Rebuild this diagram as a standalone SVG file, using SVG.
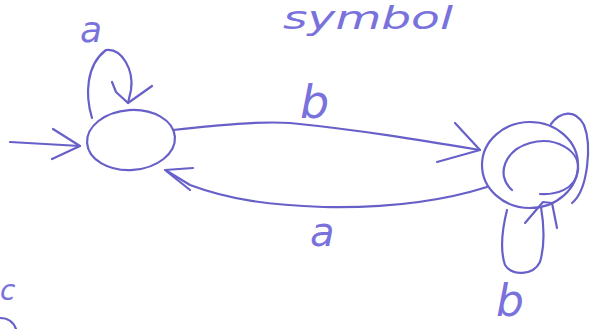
<svg xmlns="http://www.w3.org/2000/svg" width="594" height="329" viewBox="0 0 594 329">
<style>
.s{fill:none;stroke:#6760c8;stroke-width:2.2;stroke-linecap:round;stroke-linejoin:round}
.t{fill:#7a72dc;font-family:"DejaVu Sans",sans-serif;font-style:italic}
</style>
<rect width="594" height="329" fill="#ffffff"/>
<text class="t" x="283" y="29" font-size="32" textLength="170" lengthAdjust="spacingAndGlyphs">symbol</text>
<text class="t" x="0" y="300" font-size="28">c</text>
<path class="s" d="M0,318 Q12,318 16,329"/>
<g id="q0">
<ellipse class="s" cx="131" cy="140" rx="44" ry="30" transform="rotate(-4 131 140)"/>
</g>
<g id="q1">
<ellipse class="s" cx="530" cy="165" rx="48" ry="43"/>
<path class="s" d="M512,190 C495,175 505,150 530,143 C555,136 580,150 578,170 C576,190 555,195 540,194"/>
<path class="s" d="M551,124 C560,112 575,108 584,125 C592,145 588,190 572,203"/>
</g>
<g id="connectors">
<path class="s" d="M10,142 L80,146"/>
<path class="s" d="M53,129 L80,146 L52,159"/>
<path class="s" d="M92,118 C85,95 86,65 106,50 C122,48 134,70 131,90 L128,103"/>
<path class="s" d="M112,82 L116,92 L128,103 L152,86"/>
<path class="s" d="M173,130 C220,125 260,121 290,123 C360,130 420,140 480,150"/>
<path class="s" d="M455,123 L480,150 L437,162"/>
<path class="s" d="M487,187 C430,205 370,208 323,207 C270,205 230,200 190,185 L167,171"/>
<path class="s" d="M193,168 L165,170 L190,190"/>
<path class="s" d="M507,210 C502,230 500,250 505,265 C512,276 533,276 540,262 C545,245 544,225 541,207"/>
<path class="s" d="M525,223 L543,202 L552,203 L557,228"/>
</g>
<text class="t" x="80" y="42" font-size="36">a</text>
<text class="t" x="300" y="118" font-size="46">b</text>
<text class="t" x="310" y="246" font-size="40">a</text>
<text class="t" x="496" y="316" font-size="44">b</text>
</svg>
